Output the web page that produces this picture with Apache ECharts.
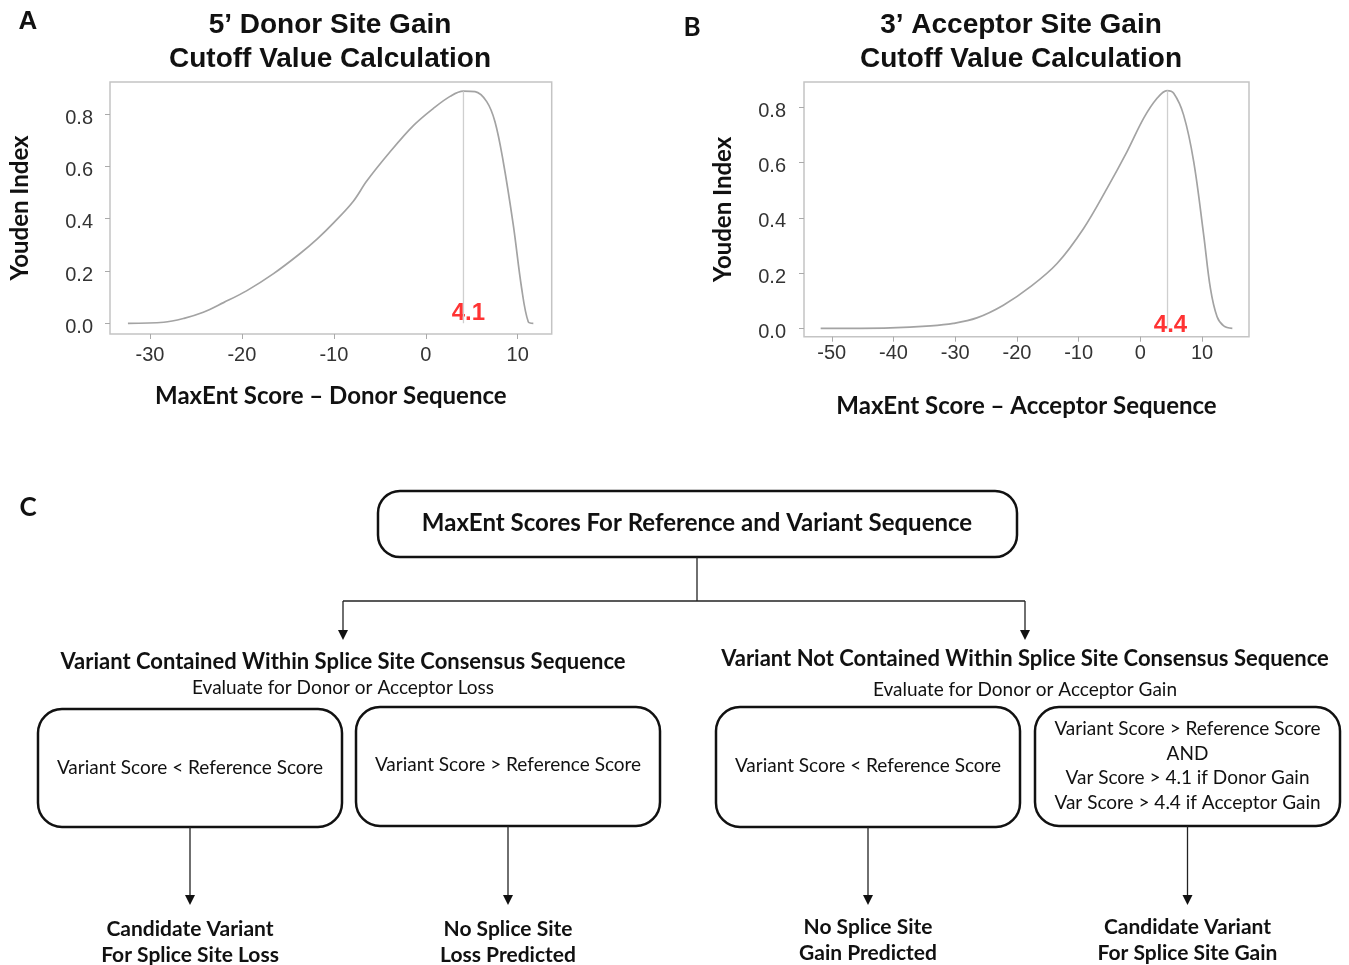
<!DOCTYPE html>
<html>
<head>
<meta charset="utf-8">
<script src="https://cdn.jsdelivr.net/npm/echarts@6/dist/echarts.min.js"></script>
<style>html,body{margin:0;padding:0;background:#fff}#c{width:1349px;height:965px}</style>
</head>
<body>
<div id="c"></div>
<script>
// ---- Data ----
const donorX = [-32.4, -28.5, -26.3, -24.2, -22.0, -19.5, -16.6, -13.7, -11.8, -10.0, -7.9, -6.4, -3.9, -1.35, 0.83, 2.64, 4.09, 5.36, 6.63, 7.53, 8.43, 9.52, 10.43, 11.15, 11.7];
const donorY = [0, 0.004, 0.019, 0.042, 0.079, 0.124, 0.189, 0.266, 0.323, 0.385, 0.466, 0.545, 0.655, 0.756, 0.822, 0.868, 0.888, 0.886, 0.848, 0.771, 0.618, 0.376, 0.134, 0.006, 0];
const acceptorX = [-51.8, -40.5, -34.0, -30.3, -26.5, -22.2, -17.8, -13.5, -9.2, -5.4, -2.16, 0.54, 2.7, 4.32, 5.4, 7.0, 8.64, 10.26, 11.35, 12.43, 13.5, 14.9];
const acceptorY = [0, 0.002, 0.009, 0.018, 0.038, 0.084, 0.151, 0.235, 0.362, 0.507, 0.640, 0.761, 0.833, 0.861, 0.851, 0.773, 0.604, 0.338, 0.145, 0.042, 0.009, 0];
const donorCutoff = 4.1, donorPeak = 0.888;
const acceptorCutoff = 4.4, acceptorPeak = 0.861;
const donorXTicks = [-30, -20, -10, 0, 10];
const acceptorXTicks = [-50, -40, -30, -20, -10, 0, 10];
const yTicks = [0, 0.2, 0.4, 0.6, 0.8];

const panelLetters = ['A', 'B', 'C'];
const donorTitle = ['5\u2019 Donor Site Gain', 'Cutoff Value Calculation'];
const acceptorTitle = ['3\u2019 Acceptor Site Gain', 'Cutoff Value Calculation'];
const yName = 'Youden Index';
const donorXName = 'MaxEnt Score \u2013 Donor Sequence';
const acceptorXName = 'MaxEnt Score \u2013 Acceptor Sequence';

const flowTop = 'MaxEnt Scores For Reference and Variant Sequence';
const branchTitles = ['Variant Contained Within Splice Site Consensus Sequence', 'Variant Not Contained Within Splice Site Consensus Sequence'];
const branchSubs = ['Evaluate for Donor or Acceptor Loss', 'Evaluate for Donor or Acceptor Gain'];
const conditionTexts = [
  ['Variant Score < Reference Score'],
  ['Variant Score > Reference Score'],
  ['Variant Score < Reference Score'],
  ['Variant Score > Reference Score', 'AND', 'Var Score > 4.1 if Donor Gain', 'Var Score > 4.4 if Acceptor Gain']
];
const outcomeTexts = [
  ['Candidate Variant', 'For Splice Site Loss'],
  ['No Splice Site', 'Loss Predicted'],
  ['No Splice Site', 'Gain Predicted'],
  ['Candidate Variant', 'For Splice Site Gain']
];

// ---- Layout / styles ----
const tickFont = '"Liberation Sans", Arial, sans-serif';
const flowFont = 'Lato, "Noto Sans", sans-serif';
const boxes = [
  {x: 38, y: 709, w: 304, h: 118, ty: 768},
  {x: 356, y: 707, w: 304, h: 119, ty: 765},
  {x: 716, y: 707, w: 304, h: 120, ty: 766},
  {x: 1035, y: 707, w: 305, h: 119, ty: 766}
];
const outcomeY = [942, 942, 940, 940];
const arrowTipY = 905;

function arrowHead(x, tip) {
  return {type: 'polygon', shape: {points: [[x - 5, tip - 10], [x + 5, tip - 10], [x, tip]]}, style: {fill: '#111'}};
}
function vline(x, y1, y2, w) {
  return {type: 'line', shape: {x1: x, y1: y1, x2: x, y2: y2}, style: {stroke: '#222', lineWidth: w || 1.3}};
}
function text(t, x, y, font, extra) {
  return {type: 'text', style: Object.assign({text: t, x: x, y: y, font: font, fill: '#111', align: 'center', verticalAlign: 'middle'}, extra || {})};
}

const graphics = [];
graphics.push(text(panelLetters[0], 28, 22, 'bold 26px ' + tickFont));
graphics.push(text(panelLetters[1], 692, 28, 'bold 26px ' + flowFont));
graphics.push(text(panelLetters[2], 28, 508, 'bold 26px ' + flowFont));
graphics.push(text(donorTitle.join('\n'), 330, 42, 'bold 28px ' + tickFont, {lineHeight: 34}));
graphics.push(text(acceptorTitle.join('\n'), 1021, 42, 'bold 28px ' + tickFont, {lineHeight: 34}));
graphics.push({type: 'rect', shape: {x: 378, y: 491, width: 639, height: 66, r: 22}, style: {fill: '#fff', stroke: '#111', lineWidth: 2.5}});
graphics.push(text(flowTop, 697, 523, 'bold 24px ' + flowFont));
graphics.push(vline(697, 557, 601));
graphics.push({type: 'line', shape: {x1: 343, y1: 601, x2: 1025, y2: 601}, style: {stroke: '#222', lineWidth: 1.3}});
graphics.push(vline(343, 601, 632));
graphics.push(arrowHead(343, 640));
graphics.push(vline(1025, 601, 632));
graphics.push(arrowHead(1025, 640));
graphics.push(text(branchTitles[0], 343, 662, 'bold 22px ' + flowFont));
graphics.push(text(branchSubs[0], 343, 688, '19px ' + flowFont));
graphics.push(text(branchTitles[1], 1025, 659, 'bold 22px ' + flowFont));
graphics.push(text(branchSubs[1], 1025, 690, '19px ' + flowFont));
boxes.forEach(function (b, i) {
  const cx = b.x + b.w / 2;
  graphics.push({type: 'rect', shape: {x: b.x, y: b.y, width: b.w, height: b.h, r: 24}, style: {fill: '#fff', stroke: '#111', lineWidth: 2.5}});
  graphics.push(text(conditionTexts[i].join('\n'), cx, b.ty, '19px ' + flowFont, {lineHeight: 24.7}));
  graphics.push(vline(cx, b.y + b.h, arrowTipY - 8));
  graphics.push(arrowHead(cx, arrowTipY));
  graphics.push(text(outcomeTexts[i].join('\n'), cx, outcomeY[i], 'bold 21px ' + flowFont, {lineHeight: 26}));
});

function xAxisCfg(gi, min, max, ticks, name, gap, margin) {
  return {
    gridIndex: gi, type: 'value', min: min, max: max,
    axisLine: {show: false, onZero: false},
    axisTick: {show: true, length: 5, customValues: ticks, lineStyle: {color: '#aaa', width: 1}},
    axisLabel: {customValues: ticks, margin: margin, fontSize: 20, color: '#333', fontFamily: tickFont},
    splitLine: {show: false},
    name: name, nameLocation: 'middle', nameGap: gap,
    nameTextStyle: {fontFamily: flowFont, fontWeight: 'bold', fontSize: 24, color: '#111', verticalAlign: 'middle'}
  };
}
function yAxisCfg(gi, min, max, gap, margin) {
  return {
    gridIndex: gi, type: 'value', min: min, max: max,
    axisLine: {show: false, onZero: false},
    axisTick: {show: true, length: 5, customValues: yTicks, lineStyle: {color: '#aaa', width: 1}},
    axisLabel: {customValues: yTicks, margin: margin,
      formatter: function (v) { return '{t|' + v.toFixed(1) + '}'; },
      rich: {t: {fontSize: 20, color: '#333', fontFamily: tickFont, padding: [8, 0, 0, 0]}}},
    splitLine: {show: false},
    name: yName, nameLocation: 'middle', nameGap: gap, nameRotate: 90,
    nameTextStyle: {fontFamily: flowFont, fontWeight: 'bold', fontSize: 24, color: '#111', verticalAlign: 'middle'}
  };
}

const chart = echarts.init(document.getElementById('c'), null, {renderer: 'canvas'});
chart.setOption({
  animation: false,
  backgroundColor: '#fff',
  grid: [
    {left: 110, top: 82, width: 441.7, height: 252, show: true, borderColor: '#c4c4c4', borderWidth: 1.5, containLabel: false},
    {left: 804, top: 82, width: 445, height: 254.7, show: true, borderColor: '#c4c4c4', borderWidth: 1.5, containLabel: false}
  ],
  xAxis: [
    xAxisCfg(0, -34.35, 13.7, donorXTicks, donorXName, 62, 11),
    xAxisCfg(1, -54.5, 17.6, acceptorXTicks, acceptorXName, 70, 7)
  ],
  yAxis: [
    yAxisCfg(0, -0.041, 0.923, 90, 17),
    yAxisCfg(1, -0.030, 0.892, 81, 18)
  ],
  series: [
    {type: 'line', xAxisIndex: 0, yAxisIndex: 0, showSymbol: false, smooth: 0.35,
     data: donorX.map(function (x, i) { return [x, donorY[i]]; }), lineStyle: {color: '#a3a3a3', width: 1.7}},
    {type: 'line', xAxisIndex: 0, yAxisIndex: 0, showSymbol: false,
     data: [[donorCutoff, 0], [donorCutoff, donorPeak]], lineStyle: {color: '#cfcfcf', width: 1.3}},
    {type: 'scatter', xAxisIndex: 0, yAxisIndex: 0, symbolSize: 1, itemStyle: {color: 'rgba(0,0,0,0)'},
     data: [[donorCutoff, 0]],
     label: {show: true, formatter: String(donorCutoff), position: 'top', distance: 0, offset: [5, 3], color: '#ff0000', fontWeight: 'bold', fontSize: 24, fontFamily: tickFont}},
    {type: 'line', xAxisIndex: 1, yAxisIndex: 1, showSymbol: false, smooth: 0.35,
     data: acceptorX.map(function (x, i) { return [x, acceptorY[i]]; }), lineStyle: {color: '#a3a3a3', width: 1.7}},
    {type: 'line', xAxisIndex: 1, yAxisIndex: 1, showSymbol: false,
     data: [[acceptorCutoff, 0], [acceptorCutoff, acceptorPeak]], lineStyle: {color: '#cfcfcf', width: 1.3}},
    {type: 'scatter', xAxisIndex: 1, yAxisIndex: 1, symbolSize: 1, itemStyle: {color: 'rgba(0,0,0,0)'},
     data: [[acceptorCutoff, 0]],
     label: {show: true, formatter: String(acceptorCutoff), position: 'top', distance: -5, offset: [3, 4], color: '#ff0000', fontWeight: 'bold', fontSize: 24, fontFamily: tickFont}}
  ],
  graphic: graphics
});
</script>
</body>
</html>
